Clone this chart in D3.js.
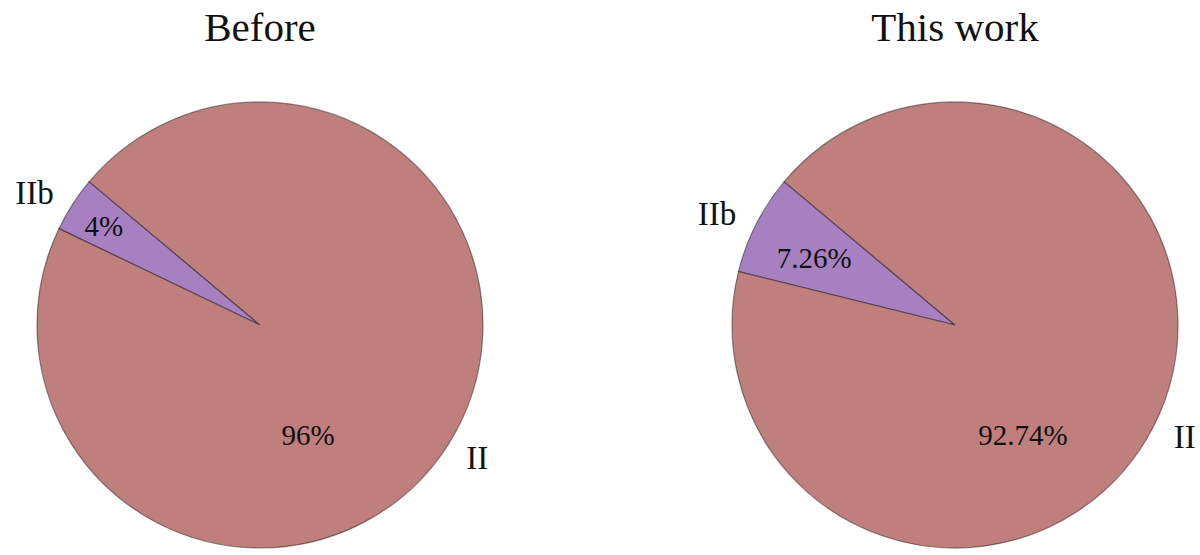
<!DOCTYPE html>
<html>
<head>
<meta charset="UTF-8">
<title>Before / This work</title>
<style>
  body { margin: 0; background: #fff; }
  text { font-family: "Liberation Serif", "DejaVu Serif", serif; fill: #111; }
  .wedge { stroke: rgba(0,0,0,0.42); stroke-width: 1.2px; }
</style>
</head>
<body>
<svg></svg>
<script src="https://d3js.org/d3.v7.min.js"></script>
<script>

// data
var titles = ["Before", "This work"];
var categories = ["IIb", "II"];
var before = [4, 96];
var thisWork = [7.26, 92.74];
var pctLabels = [["4%", "96%"], ["7.26%", "92.74%"]];
var colors = ["#a680c1", "#bf7f7d"];

var width = 1200, height = 555;
var radius = 223;
var centers = [260, 955];
var cy = 325;
var startDeg = 140; // counter-clockwise from east, like matplotlib

// where the % labels sit: [angle deg, fraction of radius] for each wedge
var pctPlace = [[[147.5, 0.83], [-66.4, 0.54]], [[154.4, 0.70], [-58.3, 0.58]]];

var svg = d3.select('svg')
  .attr('width', width)
  .attr('height', height);

var arc = d3.arc().innerRadius(0).outerRadius(radius);

function toXY(deg, r) {
  var a = deg * Math.PI / 180;
  return [r * Math.cos(a), -r * Math.sin(a)];
}

[before, thisWork].forEach(function (vals, p) {
  var g = svg.append('g')
    .attr('transform', 'translate(' + centers[p] + ',' + cy + ')');

  var a0 = (90 - startDeg) * Math.PI / 180;
  var pie = d3.pie().sort(null).value(function (d) { return d; })
    .startAngle(a0).endAngle(a0 - 2 * Math.PI);
  var arcs = pie(vals);

  g.selectAll('path')
    .data(arcs)
    .enter().append('path')
    .attr('class', 'wedge')
    .attr('d', arc)
    .attr('fill', function (d, i) { return colors[i]; });

  // category labels at 1.1 r, on the wedge middle
  g.selectAll('text.cat')
    .data(arcs)
    .enter().append('text')
    .attr('class', 'cat')
    .each(function (d, i) {
      var mid = (d.startAngle + d.endAngle) / 2; // d3 angle
      var deg = 90 - mid * 180 / Math.PI;
      var xy = toXY(deg, 1.1 * radius);
      d3.select(this)
        .attr('x', xy[0])
        .attr('y', xy[1])
        .attr('dy', '0.35em')
        .attr('text-anchor', xy[0] < 0 ? 'end' : 'start')
        .style('font-family', '"Liberation Serif", serif')
        .style('font-size', '33px')
        .text(categories[i]);
    });

  g.selectAll('text.pct')
    .data(arcs)
    .enter().append('text')
    .attr('class', 'pct')
    .each(function (d, i) {
      var xy = toXY(pctPlace[p][i][0], pctPlace[p][i][1] * radius);
      d3.select(this)
        .attr('x', xy[0])
        .attr('y', xy[1])
        .attr('dy', '0.35em')
        .attr('text-anchor', 'middle')
        .style('font-family', '"Liberation Serif", serif')
        .style('font-size', '29px')
        .text(pctLabels[p][i]);
    });

  svg.append('text')
    .attr('x', centers[p])
    .attr('y', 41)
    .attr('text-anchor', 'middle')
    .style('font-family', '"Liberation Serif", serif')
    .style('font-size', '41px')
    .text(titles[p]);
});

</script>
</body>
</html>
